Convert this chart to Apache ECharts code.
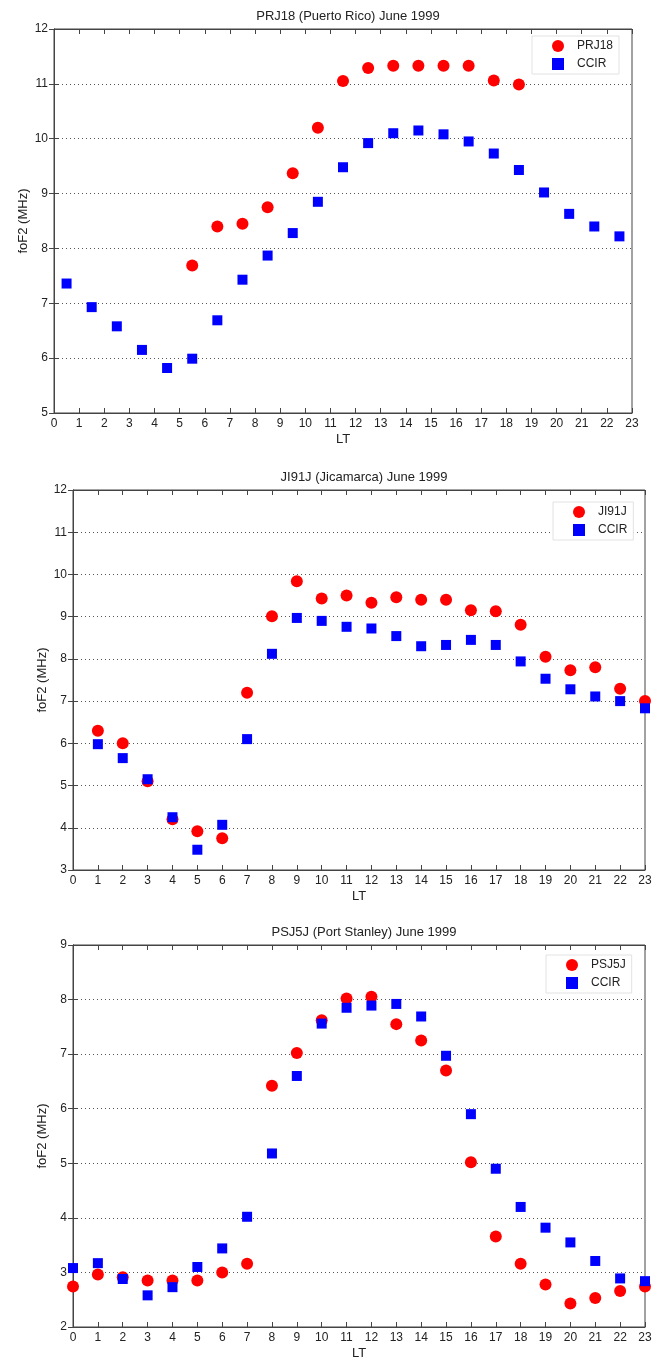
<!DOCTYPE html>
<html>
<head>
<meta charset="utf-8">
<script src="https://cdn.jsdelivr.net/npm/echarts@6/dist/echarts.min.js"></script>
<style>
  html, body { margin: 0; padding: 0; background: #fff; }
  #main { width: 666px; height: 1363px; }
</style>
</head>
<body>
<div id="main"></div>
<script>
// panel 1: PRJ18 (Puerto Rico)
var prjHours = [5.5, 6.5, 7.5, 8.5, 9.5, 10.5, 11.5, 12.5, 13.5, 14.5, 15.5, 16.5, 17.5, 18.5];
var prjVals = [7.69, 8.4, 8.45, 8.75, 9.37, 10.2, 11.05, 11.29, 11.33, 11.33, 11.33, 11.33, 11.06, 10.99];
var prjCcirHours = [0.5, 1.5, 2.5, 3.5, 4.5, 5.5, 6.5, 7.5, 8.5, 9.5, 10.5, 11.5, 12.5, 13.5, 14.5, 15.5, 16.5, 17.5, 18.5, 19.5, 20.5, 21.5, 22.5];
var prjCcir = [7.36, 6.93, 6.58, 6.15, 5.82, 5.99, 6.69, 7.43, 7.87, 8.28, 8.85, 9.48, 9.92, 10.1, 10.15, 10.08, 9.95, 9.73, 9.43, 9.02, 8.63, 8.4, 8.22];

// panel 2: JI91J (Jicamarca)
var jiHours = [1, 2, 3, 4, 5, 6, 7, 8, 9, 10, 11, 12, 13, 14, 15, 16, 17, 18, 19, 20, 21, 22, 23];
var jiVals = [6.3, 6.0, 5.1, 4.2, 3.92, 3.75, 7.2, 9.01, 9.84, 9.43, 9.5, 9.33, 9.46, 9.4, 9.4, 9.15, 9.13, 8.81, 8.05, 7.73, 7.8, 7.29, 7.0];
var jiCcir = [5.98, 5.65, 5.15, 4.25, 3.48, 4.07, 6.1, 8.12, 8.97, 8.9, 8.76, 8.72, 8.54, 8.3, 8.33, 8.45, 8.33, 7.94, 7.53, 7.28, 7.11, 7.0, 6.83];

// panel 3: PSJ5J (Port Stanley)
var psHours = [0, 1, 2, 3, 4, 5, 6, 7, 8, 9, 10, 11, 12, 13, 14, 15, 16, 17, 18, 19, 20, 21, 22, 23];
var psVals = [2.74, 2.96, 2.91, 2.85, 2.85, 2.85, 3.0, 3.16, 6.42, 7.02, 7.62, 8.02, 8.05, 7.55, 7.25, 6.7, 5.02, 3.66, 3.16, 2.78, 2.43, 2.53, 2.66, 2.74];
var psCcir = [3.08, 3.17, 2.88, 2.58, 2.73, 3.1, 3.44, 4.02, 5.18, 6.6, 7.56, 7.85, 7.89, 7.92, 7.69, 6.97, 5.9, 4.9, 4.2, 3.82, 3.55, 3.21, 2.89, 2.84];

var xTicks = [0, 23, 1];

var panels = [
  { title: 'PRJ18 (Puerto Rico) June 1999', name: 'PRJ18', hours: prjHours, vals: prjVals,
    ccirHours: prjCcirHours, ccir: prjCcir, ymin: 5, ymax: 12,
    left: 54, top: 29, width: 578, height: 384, titleTop: 5, legendLeft: 532, legendTop: 36 },
  { title: 'JI91J (Jicamarca) June 1999', name: 'JI91J', hours: jiHours, vals: jiVals,
    ccirHours: jiHours, ccir: jiCcir, ymin: 3, ymax: 12,
    left: 73, top: 490, width: 572, height: 380, titleTop: 466, legendLeft: 553, legendTop: 502 },
  { title: 'PSJ5J (Port Stanley) June 1999', name: 'PSJ5J', hours: psHours, vals: psVals,
    ccirHours: psHours, ccir: psCcir, ymin: 2, ymax: 9,
    left: 73, top: 945, width: 572, height: 382, titleTop: 921, legendLeft: 546, legendTop: 955 }
];

var font = 'Liberation Sans, Arial, sans-serif';
var frame = '#444';

function zip(xs, ys) {
  return xs.map(function (x, i) { return [x, ys[i]]; });
}

var option = {
  backgroundColor: '#fff',
  animation: false,
  textStyle: { fontFamily: font },
  title: [], grid: [], xAxis: [], yAxis: [], legend: [], series: []
};

panels.forEach(function (p, i) {
  option.title.push({
    text: p.title, left: p.left + p.width / 2, top: p.titleTop, textAlign: 'center',
    textStyle: { fontSize: 13, fontWeight: 'normal', color: '#222', fontFamily: font }
  });
  option.grid.push({
    left: p.left, top: p.top, width: p.width, height: p.height,
    show: true, borderColor: frame, borderWidth: 1, backgroundColor: '#fff'
  });
  var tick = { show: true, inside: true, length: 5, lineStyle: { color: frame } };
  // bottom + top x axes
  option.xAxis.push({
    type: 'value', gridIndex: i, position: 'bottom', min: xTicks[0], max: xTicks[1], interval: xTicks[2],
    name: 'LT', nameLocation: 'middle', nameGap: 20,
    nameTextStyle: { fontSize: 13, color: '#222' },
    axisLine: { lineStyle: { color: frame } }, axisTick: tick,
    axisLabel: { fontSize: 12, color: '#222', margin: 5 },
    splitLine: { show: false }
  });
  option.xAxis.push({
    type: 'value', gridIndex: i, position: 'top', min: xTicks[0], max: xTicks[1], interval: xTicks[2],
    axisLine: { lineStyle: { color: frame } }, axisTick: tick,
    axisLabel: { show: false }, splitLine: { show: false }
  });
  // left + right y axes
  option.yAxis.push({
    type: 'value', gridIndex: i, position: 'left', min: p.ymin, max: p.ymax, interval: 1,
    name: 'foF2 (MHz)', nameLocation: 'middle', nameGap: 24, nameMoveOverlap: false,
    nameTextStyle: { fontSize: 13, color: '#222' },
    axisLine: { show: true, lineStyle: { color: frame } }, axisTick: tick,
    axisLabel: { fontSize: 12, color: '#222', margin: 6 },
    splitLine: { show: true, lineStyle: { type: [1, 3], color: '#555', width: 1 } }
  });
  option.yAxis.push({
    type: 'value', gridIndex: i, position: 'right', min: p.ymin, max: p.ymax, interval: 1,
    axisLine: { show: true, lineStyle: { color: frame } }, axisTick: tick,
    axisLabel: { show: false }, splitLine: { show: false }
  });
  option.legend.push({
    left: p.legendLeft, top: p.legendTop, orient: 'vertical',
    data: [p.name, 'CCIR' + i],
    formatter: function (n) { return n.indexOf('CCIR') === 0 ? 'CCIR' : n; },
    backgroundColor: '#fff', borderColor: '#e2e2e2', borderWidth: 1,
    padding: [4, 6, 4, 20], itemGap: 6, itemWidth: 12, itemHeight: 12,
    textStyle: { fontSize: 12, color: '#222', padding: [0, 0, 0, 8] }
  });
  option.series.push({
    type: 'scatter', name: p.name, xAxisIndex: i * 2, yAxisIndex: i * 2,
    data: zip(p.hours, p.vals), symbol: 'circle', symbolSize: 12,
    itemStyle: { color: '#ff0000', opacity: 1 }, z: 3
  });
  option.series.push({
    type: 'scatter', name: 'CCIR' + i, xAxisIndex: i * 2, yAxisIndex: i * 2,
    data: zip(p.ccirHours, p.ccir), symbol: 'rect', symbolSize: 10,
    itemStyle: { color: '#0000ff', opacity: 1 }, z: 4
  });
});

var myChart = echarts.init(document.getElementById('main'));
myChart.setOption(option);
</script>
</body>
</html>
